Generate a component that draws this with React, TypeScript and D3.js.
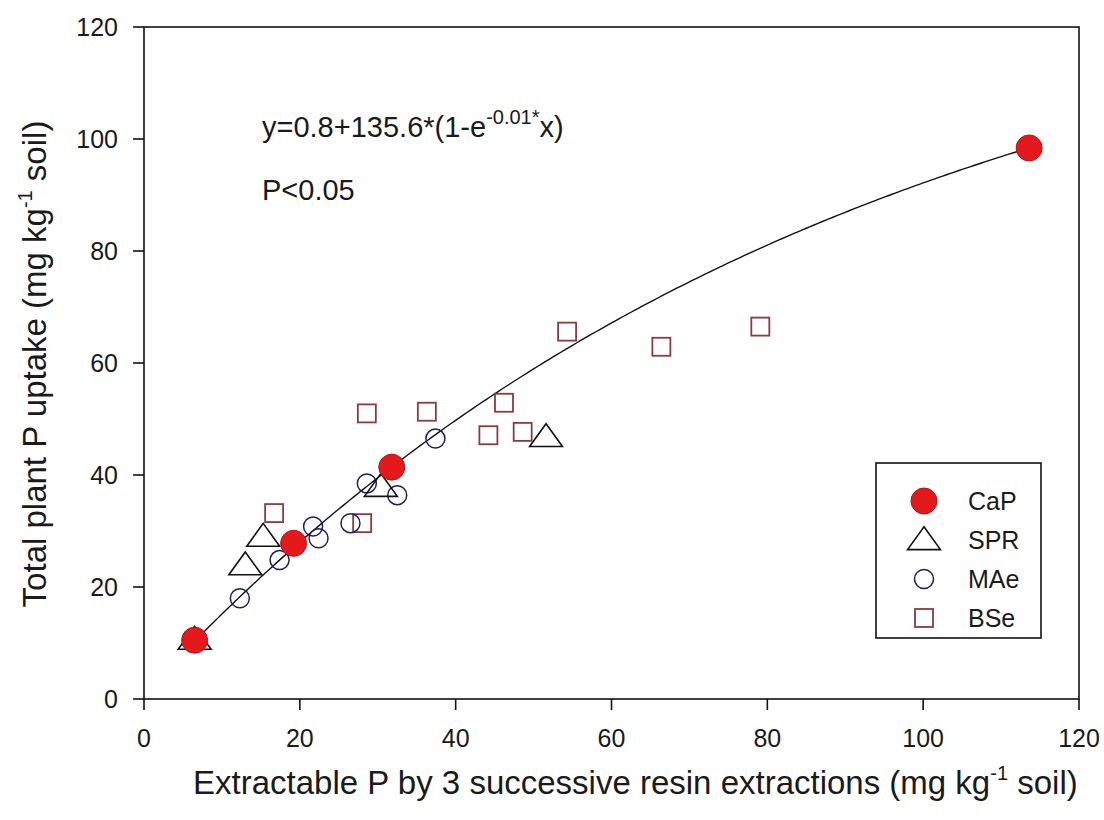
import React from "react";
import * as d3 from "d3";

// Extractable resin P (x) vs total plant P uptake (y), by P source
const capX = [6.5, 19.2, 31.8, 113.6];
const capY = [10.5, 27.8, 41.4, 98.4];

const sprX = [6.5, 13.0, 15.3, 30.4, 51.6];
const sprY = [10.6, 23.9, 29.0, 37.9, 46.8];

const maeX = [12.3, 17.4, 21.7, 22.4, 26.5, 28.6, 32.5, 37.4];
const maeY = [18.0, 24.8, 30.8, 28.7, 31.4, 38.5, 36.4, 46.5];

const bseX = [16.7, 28.0, 28.6, 36.3, 44.2, 46.2, 48.6, 54.3, 66.4, 79.1];
const bseY = [33.2, 31.4, 51.0, 51.3, 47.1, 52.9, 47.7, 65.6, 62.9, 66.5];

const xTicks = [0, 20, 40, 60, 80, 100, 120];
const yTicks = [0, 20, 40, 60, 80, 100, 120];

const legendNames = ["CaP", "SPR", "MAe", "BSe"];

// y = a + b*(1 - exp(-k*x)); k is printed rounded to 0.01 in the equation
const fitA = 0.8;
const fitB = 135.6;
const fitK = 0.0112;
const fitRange = [6.5, 113.6];

const W = 1104;
const H = 820;
const M = { left: 144, top: 27, right: 1079, bottom: 699 };
const FONT = "Arial, 'Liberation Sans', Helvetica, sans-serif";
const TEXT = "#1a1a1a";
const RED = "#e3191c";
const RED_EDGE = "#b01418";
const BLUE = "#1b1f6b";
const BROWN = "#8c3a3c";

const zip = (xs: number[], ys: number[]) => xs.map((x, i) => ({ x, y: ys[i] }));

function Marker({ kind, cx, cy }: { kind: string; cx: number; cy: number }) {
  if (kind === "CaP") {
    return <circle cx={cx} cy={cy} r={13} fill={RED} stroke={RED_EDGE} strokeWidth={1} />;
  }
  if (kind === "SPR") {
    const tri = d3.symbol().type(d3.symbolTriangle).size(300)();
    return (
      <path
        d={tri || ""}
        transform={`translate(${cx},${cy + 2}) scale(1.25,1)`}
        fill="none"
        stroke="#111"
        strokeWidth={1.6}
        vectorEffect="non-scaling-stroke"
      />
    );
  }
  if (kind === "MAe") {
    return <circle cx={cx} cy={cy} r={9.5} fill="none" stroke={BLUE} strokeWidth={1.5} />;
  }
  return <rect x={cx - 9} y={cy - 9} width={18} height={18} fill="none" stroke={BROWN} strokeWidth={1.8} />;
}

export default function App() {
  const x = d3.scaleLinear().domain([0, 120]).range([M.left, M.right]);
  const y = d3.scaleLinear().domain([0, 120]).range([M.bottom, M.top]);

  const curvePts = d3.range(fitRange[0], fitRange[1] + 0.01, 0.5).map((v) => [v, fitA + fitB * (1 - Math.exp(-fitK * v))]);
  curvePts.push([fitRange[1], fitA + fitB * (1 - Math.exp(-fitK * fitRange[1]))]);
  const line = d3
    .line<number[]>()
    .x((d) => x(d[0]))
    .y((d) => y(d[1]))
    .curve(d3.curveLinear);

  const series = [
    { name: "BSe", pts: zip(bseX, bseY) },
    { name: "MAe", pts: zip(maeX, maeY) },
    { name: "SPR", pts: zip(sprX, sprY) },
    { name: "CaP", pts: zip(capX, capY) },
  ];

  const legendX = 876;
  const legendY = 463;
  const rowGap = 39;

  return (
    <svg
      width={W}
      height={H}
      style={{ position: "absolute", left: 0, top: 0, background: "#fff" }}
      fontFamily={FONT}
    >
      <rect x={0} y={0} width={W} height={H} fill="#fff" />

      {/* fitted curve */}
      <path d={line(curvePts) || ""} fill="none" stroke="#111" strokeWidth={1.4} />

      {/* data points */}
      {series.map((s) =>
        s.pts.map((p, i) => <Marker key={s.name + i} kind={s.name} cx={x(p.x)} cy={y(p.y)} />)
      )}

      {/* frame */}
      <rect
        x={M.left}
        y={M.top}
        width={M.right - M.left}
        height={M.bottom - M.top}
        fill="none"
        stroke="#111"
        strokeWidth={1.6}
      />

      {/* y axis ticks */}
      {yTicks.map((t) => (
        <g key={"y" + t}>
          <line x1={M.left - 11} x2={M.left} y1={y(t)} y2={y(t)} stroke="#111" strokeWidth={1.6} />
          <text x={118} y={y(t) + 9} textAnchor="end" fontSize={25} fill={TEXT}>
            {t}
          </text>
        </g>
      ))}

      {/* x axis ticks */}
      {xTicks.map((t) => (
        <g key={"x" + t}>
          <line x1={x(t)} x2={x(t)} y1={M.bottom} y2={M.bottom + 11} stroke="#111" strokeWidth={1.6} />
          <text x={x(t)} y={747} textAnchor="middle" fontSize={25} fill={TEXT}>
            {t}
          </text>
        </g>
      ))}

      {/* axis titles */}
      <text x={193} y={794} fontSize={33} fill={TEXT}>
        Extractable P by 3 successive resin extractions (mg kg
        <tspan fontSize={20} dy={-14}>-1</tspan>
        <tspan dy={14}> soil)</tspan>
      </text>
      <text
        transform={`translate(46, 364) rotate(-90)`}
        textAnchor="middle"
        fontSize={33}
        fill={TEXT}
      >
        Total plant P uptake (mg kg
        <tspan fontSize={20} dy={-14}>-1</tspan>
        <tspan dy={14}> soil)</tspan>
      </text>

      {/* regression annotation */}
      <text x={262} y={137} fontSize={29} fill={TEXT}>
        y=0.8+135.6*(1-e
        <tspan fontSize={20} dy={-13}>-0.01*</tspan>
        <tspan dy={13}>x)</tspan>
      </text>
      <text x={262} y={200} fontSize={29} fill={TEXT}>
        P&lt;0.05
      </text>

      {/* legend */}
      <rect x={legendX} y={legendY} width={165} height={175} fill="#fff" stroke="#111" strokeWidth={1.6} />
      {legendNames.map((n, i) => {
        const cy = legendY + 38 + i * rowGap;
        return (
          <g key={n}>
            <Marker kind={n} cx={legendX + 48} cy={cy} />
            <text x={legendX + 92} y={cy + 9} fontSize={25} fill={TEXT}>
              {n}
            </text>
          </g>
        );
      })}
    </svg>
  );
}
